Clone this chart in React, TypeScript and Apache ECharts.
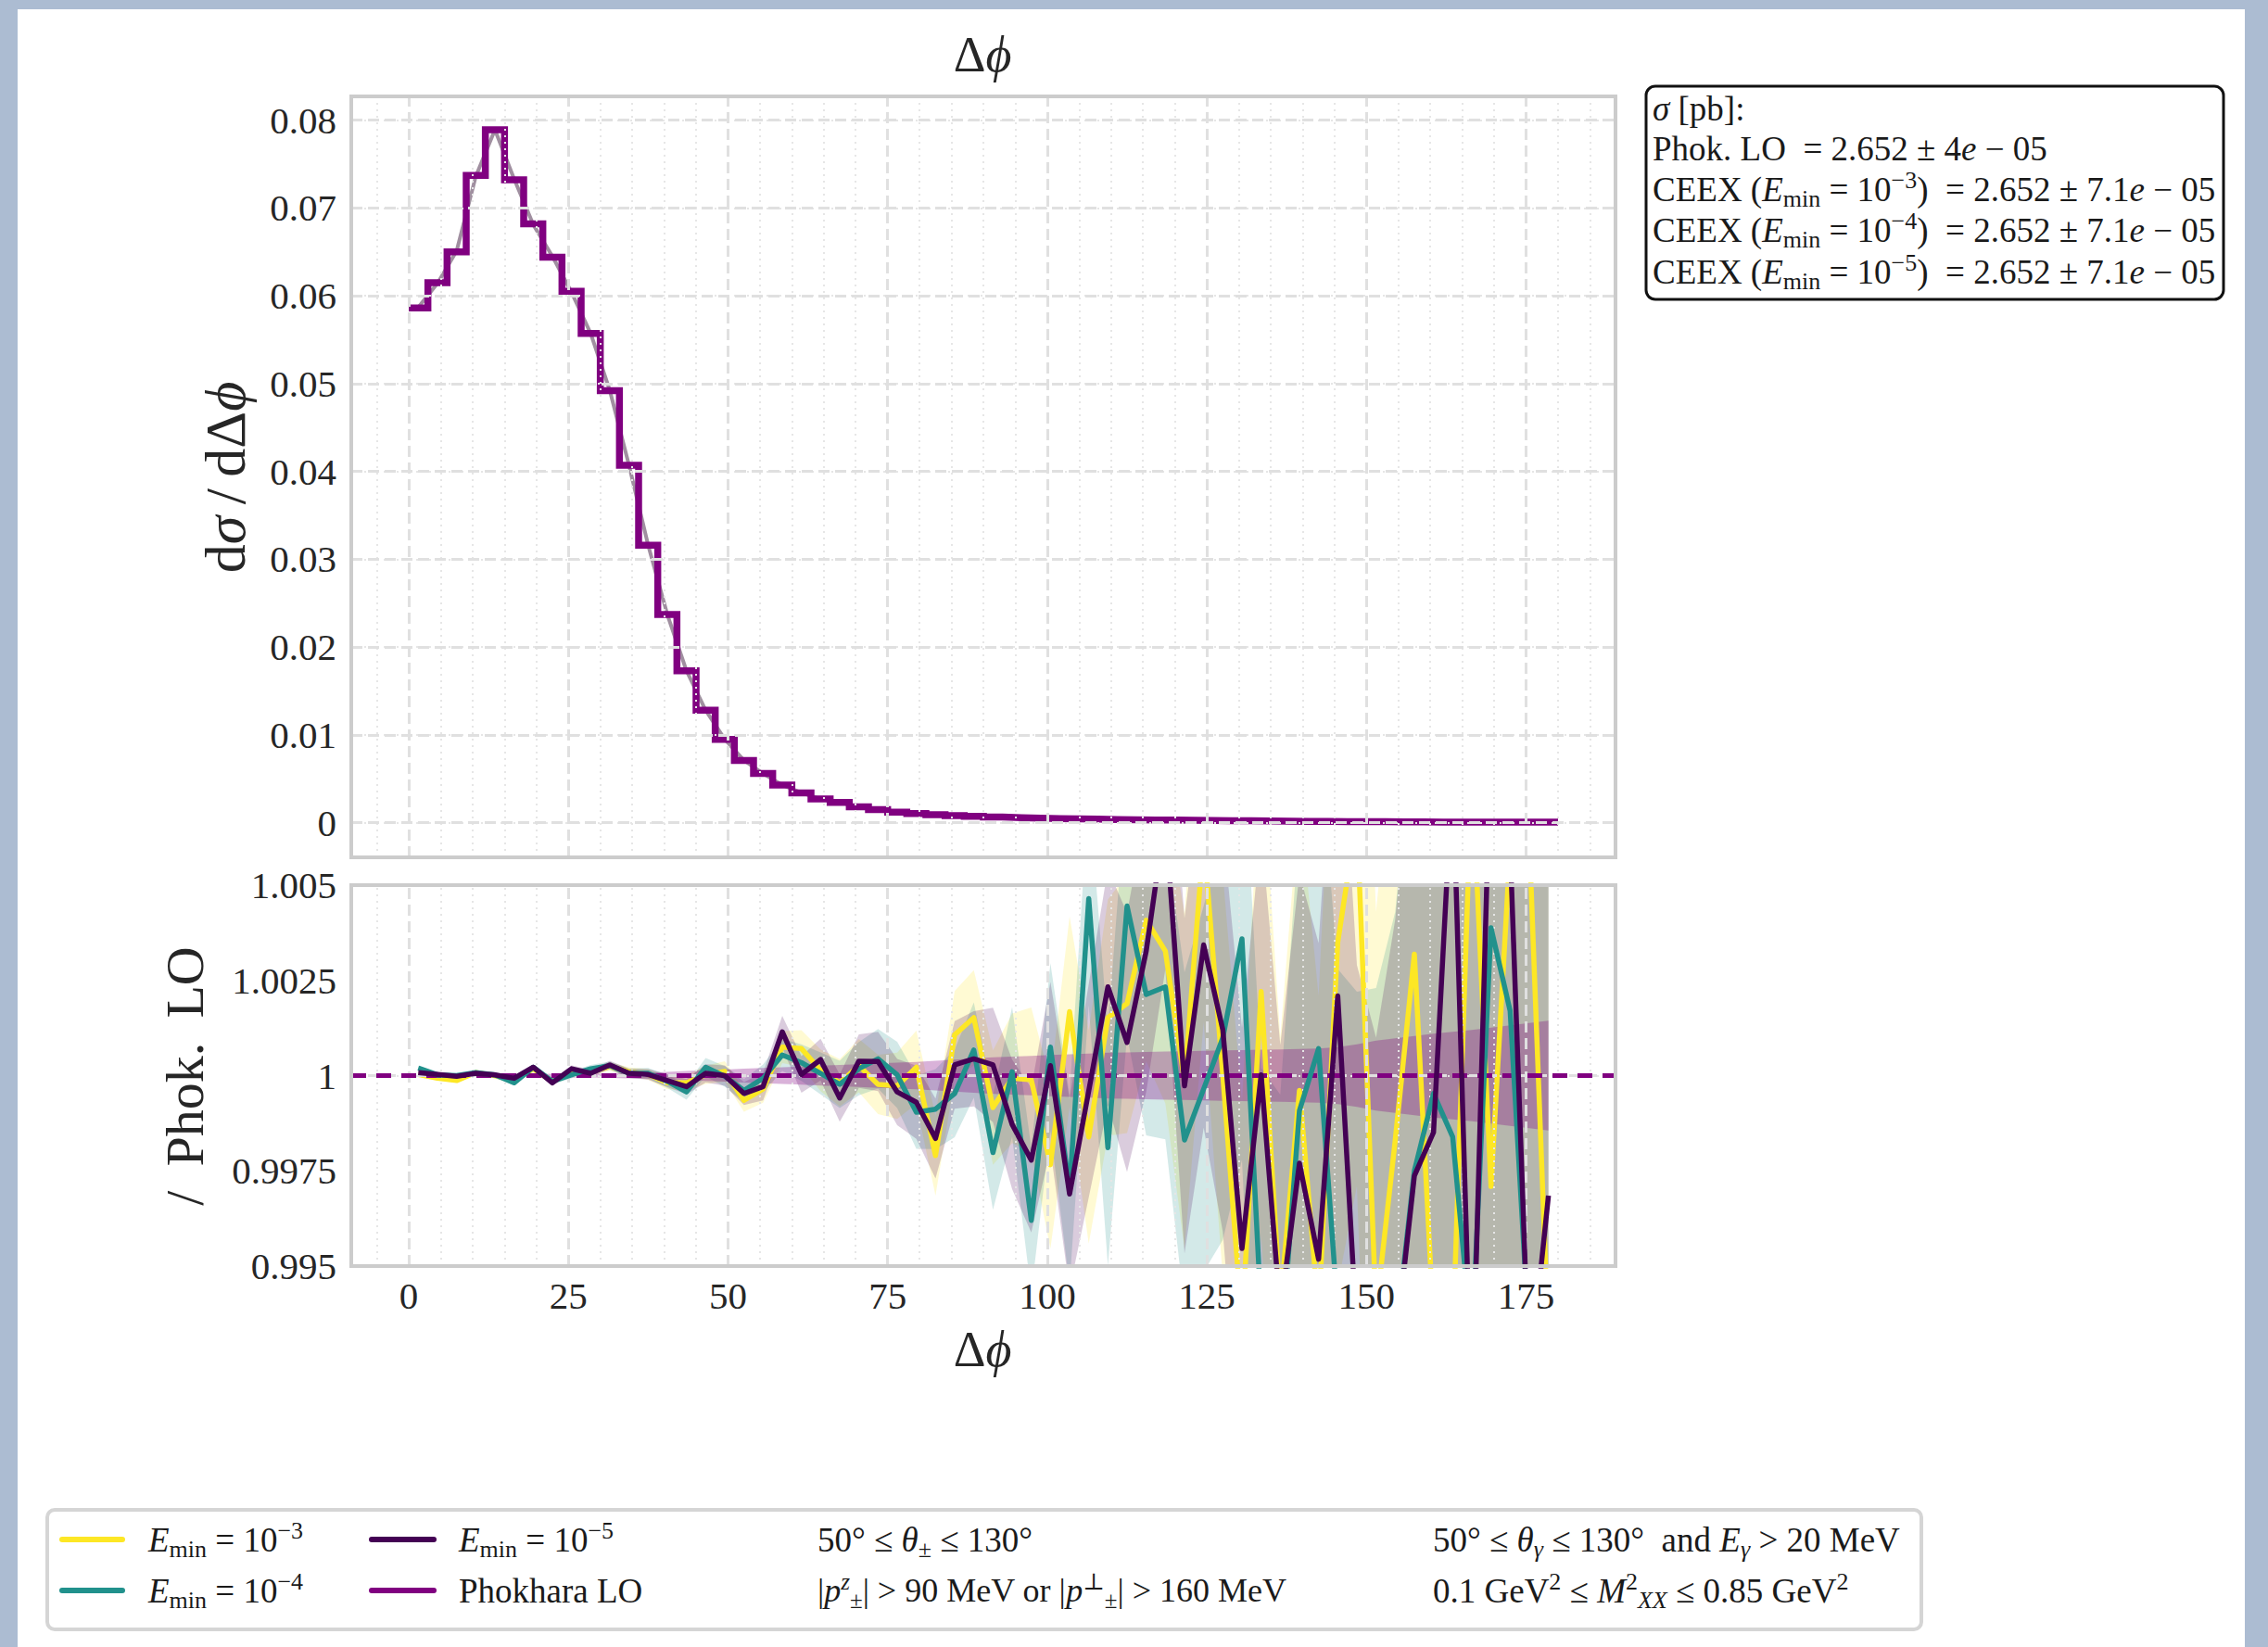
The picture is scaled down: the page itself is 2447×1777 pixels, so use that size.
import React, { useEffect, useRef } from 'react';
import * as echarts from 'echarts';

const FONT = "'Liberation Serif', 'DejaVu Serif', 'Times New Roman', serif";
const TXT = '#262626';
const C_E3 = '#fde725';
const C_E4 = '#21918c';
const C_E5 = '#440154';
const C_PHOK = '#800080';

// ---------- data ----------
const binEdges = [0, 3, 6, 9, 12, 15, 18, 21, 24, 27, 30, 33, 36, 39, 42, 45, 48, 51, 54, 57, 60, 63, 66, 69, 72, 75, 78, 81, 84, 87, 90, 93, 96, 99, 102, 105, 108, 111, 114, 117, 120, 123, 126, 129, 132, 135, 138, 141, 144, 147, 150, 153, 156, 159, 162, 165, 168, 171, 174, 177, 180];
const binCenters = [1.5, 4.5, 7.5, 10.5, 13.5, 16.5, 19.5, 22.5, 25.5, 28.5, 31.5, 34.5, 37.5, 40.5, 43.5, 46.5, 49.5, 52.5, 55.5, 58.5, 61.5, 64.5, 67.5, 70.5, 73.5, 76.5, 79.5, 82.5, 85.5, 88.5, 91.5, 94.5, 97.5, 100.5, 103.5, 106.5, 109.5, 112.5, 115.5, 118.5, 121.5, 124.5, 127.5, 130.5, 133.5, 136.5, 139.5, 142.5, 145.5, 148.5, 151.5, 154.5, 157.5, 160.5, 163.5, 166.5, 169.5, 172.5, 175.5, 178.5];

// dsigma/dDeltaphi, Phokhara LO (step histogram)
const dsigmaPhok = [0.0586, 0.0615, 0.065, 0.0737, 0.0789, 0.0732, 0.0682, 0.0644, 0.0605, 0.0557, 0.0492, 0.0407, 0.0316, 0.0237, 0.0173, 0.0128, 0.0095, 0.0071, 0.0056, 0.0043, 0.0034, 0.0027, 0.0023, 0.0018, 0.0015, 0.0012, 0.00105, 0.00092, 0.00082, 0.00073, 0.00065, 0.00058, 0.00052, 0.00047, 0.00043, 0.0004, 0.00037, 0.00034, 0.00032, 0.0003, 0.00028, 0.00026, 0.00024, 0.00022, 0.0002, 0.00018, 0.00016, 0.00014, 0.00013, 0.00012, 0.00011, 0.0001, 0.00009, 0.00008, 0.00008, 0.00007, 0.00007, 0.00006, 0.00006, 0.00006];
// CEEX curve in the upper panel (bin centres)
const dsigmaCeex = [0.0587, 0.0614, 0.0651, 0.0736, 0.0789, 0.0733, 0.0681, 0.0645, 0.0604, 0.0557, 0.0492, 0.0407, 0.0316, 0.0237, 0.0173, 0.0128, 0.0095, 0.0071, 0.0056, 0.0043, 0.0034, 0.0027, 0.0023, 0.0018, 0.0015, 0.0012, 0.00105, 0.00092, 0.00082, 0.00073, 0.00065, 0.00058, 0.00052, 0.00047, 0.00043, 0.0004, 0.00037, 0.00034, 0.00032, 0.0003, 0.00028, 0.00026, 0.00024, 0.00022, 0.0002, 0.00018, 0.00016, 0.00014, 0.00013, 0.00012, 0.00011, 0.0001, 0.00009, 0.00008, 0.00008, 0.00007, 0.00007, 0.00006, 0.00006, 0.00006];

// ratios to Phokhara LO
const ratioEmin3 = [1.00003, 0.99993, 0.99987, 1.00008, 1.0, 0.99987, 1.00018, 0.99985, 1.00006, 1.0001, 1.00024, 1.0001, 1.00003, 0.99981, 0.99981, 1.00002, 1.00011, 0.99935, 0.99965, 1.00075, 1.00071, 1.00014, 0.99981, 1.00026, 0.99977, 0.99973, 1.00022, 0.9979, 1.00107, 1.00152, 0.99916, 0.99993, 0.99989, 0.99766, 1.00168, 0.99839, 1.00152, 1.00189, 1.00408, 1.00327, 0.99985, 1.0062, 1.0, 0.9935, 1.00221, 0.994, 0.99961, 0.9938, 1.0035, 1.0068, 0.9938, 0.9983, 1.00319, 0.9935, 0.993, 1.008, 0.99709, 1.006, 1.0062, 0.993];
const ratioEmin4 = [1.0002, 1.00002, 1.0, 1.00008, 1.00002, 0.99981, 1.00022, 0.99985, 1.00002, 1.00018, 1.00026, 1.00006, 1.00006, 0.99985, 0.99957, 1.00022, 0.99998, 0.99961, 0.99993, 1.00054, 1.00034, 1.00006, 0.99977, 1.00018, 1.00044, 1.00002, 0.99904, 0.99912, 0.99953, 1.00067, 0.99798, 1.0001, 0.9962, 1.00075, 0.99701, 1.00465, 0.99811, 1.00445, 1.00213, 1.00233, 0.99831, 0.99965, 1.00099, 1.00359, 0.9938, 0.9925, 0.99908, 1.00071, 0.9938, 0.9925, 0.9918, 0.993, 0.9975, 0.99953, 0.99839, 0.993, 1.00388, 1.0017, 0.993, 0.9935];
const ratioEmin5 = [1.00008, 1.00003, 0.99998, 1.00006, 1.00002, 0.99993, 1.00022, 0.99981, 1.00018, 1.00006, 1.00028, 1.00006, 1.00003, 0.99987, 0.99971, 1.00006, 1.0, 0.99953, 0.99971, 1.00115, 1.00003, 1.00042, 0.99941, 1.00038, 1.00037, 0.99957, 0.9993, 0.99835, 1.00028, 1.00044, 1.00028, 0.99872, 0.99778, 1.00026, 0.99689, 0.9996, 1.00233, 1.00087, 1.00327, 1.0068, 0.99973, 1.00343, 1.0012, 0.99546, 1.00002, 0.9938, 0.9977, 0.99518, 1.00209, 0.9932, 0.9905, 0.9928, 0.99737, 0.99851, 1.008, 0.991, 1.009, 1.006, 0.992, 0.99685];
const ratioPhok = [1, 1, 1, 1, 1, 1, 1, 1, 1, 1, 1, 1, 1, 1, 1, 1, 1, 1, 1, 1, 1, 1, 1, 1, 1, 1, 1, 1, 1, 1, 1, 1, 1, 1, 1, 1, 1, 1, 1, 1, 1, 1, 1, 1, 1, 1, 1, 1, 1, 1, 1, 1, 1, 1, 1, 1, 1, 1, 1, 1];
// uncertainty half-widths of the ratios
const ceexErr = [0.00006, 0.00006, 0.00006, 0.00006, 0.00007, 0.00007, 0.00008, 0.00008, 0.00009, 0.0001, 0.00011, 0.00012, 0.00014, 0.00017, 0.0002, 0.00024, 0.00027, 0.0003, 0.00036, 0.00042, 0.00048, 0.00055, 0.00062, 0.0007, 0.00078, 0.00087, 0.00096, 0.00105, 0.00115, 0.00125, 0.0015, 0.0017, 0.0019, 0.0022, 0.0025, 0.0028, 0.0031, 0.0034, 0.0037, 0.004, 0.0044, 0.0048, 0.0053, 0.0058, 0.0064, 0.007, 0.0076, 0.0083, 0.009, 0.0097, 0.0105, 0.0113, 0.0121, 0.013, 0.014, 0.015, 0.016, 0.017, 0.018, 0.019];
const phokErr = [0.00003, 0.00003, 0.00003, 0.00003, 0.00004, 0.00004, 0.00004, 0.00005, 0.00005, 0.00005, 0.00006, 0.00007, 0.00008, 0.0001, 0.00012, 0.00014, 0.00016, 0.00018, 0.0002, 0.00022, 0.00024, 0.00026, 0.00028, 0.0003, 0.00032, 0.00034, 0.00036, 0.00039, 0.00042, 0.00045, 0.00048, 0.0005, 0.00052, 0.00054, 0.00056, 0.00058, 0.0006, 0.00061, 0.00062, 0.00063, 0.00064, 0.00065, 0.00066, 0.00067, 0.00068, 0.00069, 0.0007, 0.00071, 0.00075, 0.00082, 0.00092, 0.00098, 0.00104, 0.0011, 0.00115, 0.0012, 0.00126, 0.00132, 0.00138, 0.00144];

// ticks
const xTicks = [0, 25, 50, 75, 100, 125, 150, 175];
const xMinor = [-5, 5, 10, 15, 20, 30, 35, 40, 45, 55, 60, 65, 70, 80, 85, 90, 95, 105, 110, 115, 120, 130, 135, 140, 145, 155, 160, 165, 170, 180, 185];
const yTicksTop = [0, 0.01, 0.02, 0.03, 0.04, 0.05, 0.06, 0.07, 0.08];
const yTickLabelsTop = ['0', '0.01', '0.02', '0.03', '0.04', '0.05', '0.06', '0.07', '0.08'];
const yMinorTop = [-0.002, 0.002, 0.004, 0.006, 0.008, 0.012, 0.014, 0.016, 0.018, 0.022, 0.024, 0.026, 0.028, 0.032, 0.034, 0.036, 0.038, 0.042, 0.044, 0.046, 0.048, 0.052, 0.054, 0.056, 0.058, 0.062, 0.064, 0.066, 0.068, 0.072, 0.074, 0.076, 0.078, 0.082];
const yTicksBottom = [0.995, 0.9975, 1, 1.0025, 1.005];
const yTickLabelsBottom = ['0.995', '0.9975', '1', '1.0025', '1.005'];
const yGridBottom = [0.9975, 1, 1.0025];
const yMinorBottom = [0.9955, 0.996, 0.9965, 0.997, 0.998, 0.9985, 0.999, 0.9995, 1.0005, 1.001, 1.0015, 1.002, 1.003, 1.0035, 1.004, 1.0045];

// ---------- helpers ----------
function labelFor(ticks: number[], labels: string[]) {
  return (v: number) => {
    for (let i = 0; i < ticks.length; i++) if (Math.abs(ticks[i] - v) < 1e-9) return labels[i];
    return '';
  };
}

function gridLines(xi: number, yi: number, xs: number[], ys: number[], ls: any, z: number) {
  return {
    type: 'line',
    xAxisIndex: xi,
    yAxisIndex: yi,
    data: [],
    z,
    silent: true,
    markLine: {
      silent: true,
      symbol: ['none', 'none'],
      label: { show: false },
      emphasis: { disabled: true },
      lineStyle: ls,
      data: [...xs.map((v) => ({ xAxis: v })), ...ys.map((v) => ({ yAxis: v }))],
    },
  };
}

// uncertainty band drawn as one polygon through the axis scales
function band(vals: number[], errs: number[], color: string, z: number) {
  return {
    type: 'custom',
    xAxisIndex: 1,
    yAxisIndex: 1,
    z,
    silent: true,
    clip: true,
    data: binCenters.map((x, i) => [x, vals[i] - errs[i], vals[i] + errs[i]]),
    encode: { x: 0, y: [1, 2] },
    renderItem: (params: any, api: any) => {
      if (params.dataIndex !== 0) return null;
      const upper = binCenters.map((x, i) => api.coord([x, vals[i] + errs[i]]));
      const lower = binCenters.map((x, i) => api.coord([x, vals[i] - errs[i]])).reverse();
      return {
        type: 'polygon',
        shape: { points: upper.concat(lower) },
        style: { fill: color, stroke: 'none' },
      };
    },
  };
}

function ratioLine(vals: number[], color: string, z: number) {
  return {
    type: 'line', xAxisIndex: 1, yAxisIndex: 1, symbol: 'none', silent: true, z,
    lineStyle: { color, width: 5.5, join: 'round' },
    data: binCenters.map((x, i) => [x, vals[i]]),
  };
}

function rich(size: number, color = '#1a1a1a') {
  const lh = Math.round(size * 1.25);
  const small = Math.round(size * 0.7);
  const sh = Math.round(size * 0.6);
  const base = { fontFamily: FONT, fill: color };
  return {
    n: { ...base, fontSize: size, lineHeight: lh },
    i: { ...base, fontSize: size, lineHeight: lh, fontStyle: 'italic' },
    sub: { ...base, fontSize: small, lineHeight: sh, verticalAlign: 'bottom' },
    isub: { ...base, fontSize: small, lineHeight: sh, verticalAlign: 'bottom', fontStyle: 'italic' },
    sup: { ...base, fontSize: small, lineHeight: sh, verticalAlign: 'top' },
    isup: { ...base, fontSize: small, lineHeight: sh, verticalAlign: 'top', fontStyle: 'italic' },
  };
}

function txt(x: number, y: number, text: string, size: number, opts: any = {}) {
  return {
    type: 'text', x, y, z: 60, silent: true,
    rotation: opts.rotation || 0,
    style: {
      text,
      rich: rich(size, opts.color || '#1a1a1a'),
      fontFamily: FONT,
      fontSize: size,
      fill: opts.color || '#1a1a1a',
      align: opts.align || 'left',
      verticalAlign: 'middle',
    },
  };
}

function handle(x1: number, x2: number, y: number, color: string) {
  return {
    type: 'line', z: 60, silent: true,
    shape: { x1, y1: y, x2, y2: y },
    style: { stroke: color, lineWidth: 6, lineCap: 'round' },
  };
}

// ---------- option ----------
const GRID_TOP = { left: 379, top: 104, width: 1364, height: 821 };
const GRID_BOT = { left: 379, top: 955, width: 1364, height: 411 };

const majorStyle = { color: '#e0e0e0', width: 3, type: [12, 6] };
const minorStyle = { color: '#e6e6e6', width: 2, type: [2, 5] };

const axisLabelBase = { fontFamily: FONT, fontSize: 41, color: TXT };
const TS = '\u2009';

const option: any = {
  backgroundColor: 'transparent',
  animation: false,
  grid: [
    { ...GRID_TOP, show: false },
    { ...GRID_BOT, show: false },
  ],
  xAxis: [
    {
      gridIndex: 0, type: 'value', min: -9, max: 189,
      axisLine: { show: false }, axisTick: { show: false }, splitLine: { show: false }, axisLabel: { show: false },
    },
    {
      gridIndex: 1, type: 'value', min: -9, max: 189,
      axisLine: { show: false }, axisTick: { show: false }, splitLine: { show: false },
      axisLabel: { ...axisLabelBase, customValues: xTicks, margin: 11, formatter: (v: number) => String(v) },
    },
  ],
  yAxis: [
    {
      gridIndex: 0, type: 'value', min: -0.00394, max: 0.0827,
      axisLine: { show: false }, axisTick: { show: false }, splitLine: { show: false },
      axisLabel: { ...axisLabelBase, customValues: yTicksTop, margin: 16, formatter: labelFor(yTicksTop, yTickLabelsTop) },
    },
    {
      gridIndex: 1, type: 'value', min: 0.995, max: 1.005,
      axisLine: { show: false }, axisTick: { show: false }, splitLine: { show: false },
      axisLabel: { ...axisLabelBase, customValues: yTicksBottom, margin: 16, formatter: labelFor(yTicksBottom, yTickLabelsBottom) },
    },
  ],
  series: [
    // grid lines
    gridLines(0, 0, xMinor, yMinorTop, minorStyle, 0),
    gridLines(0, 0, xTicks, yTicksTop, majorStyle, 1),
    gridLines(1, 1, xMinor, yMinorBottom, minorStyle, 0),
    gridLines(1, 1, xTicks, yGridBottom, majorStyle, 1),
    // upper panel
    {
      type: 'line', xAxisIndex: 0, yAxisIndex: 0, symbol: 'none', silent: true, z: 3,
      lineStyle: { color: '#a08fa0', width: 4 },
      data: binCenters.map((x, i) => [x, dsigmaCeex[i]]),
    },
    {
      type: 'line', xAxisIndex: 0, yAxisIndex: 0, symbol: 'none', silent: true, z: 4, step: 'end',
      lineStyle: { color: C_PHOK, width: 7.5, join: 'miter' },
      data: [...binEdges.slice(0, 60).map((x, i) => [x, dsigmaPhok[i]]), [binEdges[60], dsigmaPhok[59]]],
    },
    // lower panel bands
    band(ratioEmin3, ceexErr, 'rgba(253,231,37,0.2)', 2),
    band(ratioEmin4, ceexErr, 'rgba(33,145,140,0.2)', 2),
    band(ratioEmin5, ceexErr, 'rgba(68,1,84,0.2)', 2),
    band(ratioPhok, phokErr, 'rgba(128,0,128,0.3)', 3),
    // lower panel lines
    ratioLine(ratioEmin3, C_E3, 4),
    ratioLine(ratioEmin4, C_E4, 5),
    ratioLine(ratioEmin5, C_E5, 6),
    {
      type: 'line', xAxisIndex: 1, yAxisIndex: 1, data: [], z: 8, silent: true,
      markLine: {
        silent: true, symbol: ['none', 'none'], label: { show: false }, emphasis: { disabled: true },
        lineStyle: { color: C_PHOK, width: 5, type: [16, 11] },
        data: [{ yAxis: 1 }],
      },
    },
  ],
  graphic: {
    elements: [
      // frames
      { type: 'rect', z: 50, silent: true, shape: { x: GRID_TOP.left, y: GRID_TOP.top, width: GRID_TOP.width, height: GRID_TOP.height }, style: { fill: 'none', stroke: '#cccccc', lineWidth: 4 } },
      { type: 'rect', z: 50, silent: true, shape: { x: GRID_BOT.left, y: GRID_BOT.top, width: GRID_BOT.width, height: GRID_BOT.height }, style: { fill: 'none', stroke: '#cccccc', lineWidth: 4 } },
      // title and axis names
      txt(1060, 59, '{n|Δ}{i|ϕ}', 54, { align: 'center', color: TXT }),
      txt(1060, 1456, '{n|Δ}{i|ϕ}', 54, { align: 'center', color: TXT }),
      txt(243, 515, `{n|d}{i|σ}{n|${TS}/${TS}dΔ}{i|ϕ}`, 62, { align: 'center', rotation: Math.PI / 2, color: TXT }),
      txt(199, 1161, `{n|/ ${TS}Phok. ${TS}LO}`, 58, { align: 'center', rotation: Math.PI / 2, color: TXT }),
      // cross-section box
      { type: 'rect', z: 55, silent: true, shape: { x: 1776, y: 93, width: 623, height: 230, r: 10 }, style: { fill: '#ffffff', stroke: '#111111', lineWidth: 3 } },
      txt(1783, 117, '{i|σ}{n| [pb]:}', 37),
      txt(1783, 160, '{n|Phok. LO  = 2.652 ± 4}{i|e}{n| − 05}', 37),
      txt(1783, 204, '{n|CEEX (}{i|E}{sub|min}{n| = 10}{sup|−3}{n|)  = 2.652 ± 7.1}{i|e}{n| − 05}', 37),
      txt(1783, 248, '{n|CEEX (}{i|E}{sub|min}{n| = 10}{sup|−4}{n|)  = 2.652 ± 7.1}{i|e}{n| − 05}', 37),
      txt(1783, 293, '{n|CEEX (}{i|E}{sub|min}{n| = 10}{sup|−5}{n|)  = 2.652 ± 7.1}{i|e}{n| − 05}', 37),
      // bottom legend
      { type: 'rect', z: 55, silent: true, shape: { x: 51, y: 1629, width: 2022, height: 129, r: 8 }, style: { fill: '#ffffff', stroke: '#d5d5d5', lineWidth: 4 } },
      handle(67, 132, 1661, C_E3),
      handle(67, 132, 1716, C_E4),
      handle(401, 468, 1661, C_E5),
      handle(401, 468, 1716, C_PHOK),
      txt(160, 1661, '{i|E}{sub|min}{n| = 10}{sup|−3}', 37),
      txt(160, 1716, '{i|E}{sub|min}{n| = 10}{sup|−4}', 37),
      txt(495, 1661, '{i|E}{sub|min}{n| = 10}{sup|−5}', 37),
      txt(495, 1716, '{n|Phokhara LO}', 37),
      txt(882, 1661, '{n|50° ≤ }{i|θ}{sub|±}{n| ≤ 130°}', 37),
      txt(882, 1716, '{n||}{i|p}{isup|z}{sub|±}{n|| > 90 MeV or |}{i|p}{sup|⊥}{sub|±}{n|| > 160 MeV}', 36),
      txt(1546, 1661, '{n|50° ≤ }{i|θ}{isub|γ}{n| ≤ 130°  and }{i|E}{isub|γ}{n| > 20 MeV}', 37),
      txt(1546, 1716, '{n|0.1 GeV}{sup|2}{n| ≤ }{i|M}{sup|2}{isub|XX}{n| ≤ 0.85 GeV}{sup|2}', 37),
    ],
  },
};

export default function App() {
  const ref = useRef<HTMLDivElement>(null);
  useEffect(() => {
    if (!ref.current) return;
    const chart = echarts.init(ref.current, null, { renderer: 'svg', width: 2447, height: 1777 });
    chart.setOption(option);
    return () => chart.dispose();
  }, []);
  return (
    <div style={{ position: 'fixed', left: 0, top: 0, width: 2447, height: 1777, background: '#acbcd2', overflow: 'hidden' }}>
      <div style={{ position: 'absolute', left: 19, top: 10, width: 2403, height: 1767, background: '#ffffff' }} />
      <div ref={ref} style={{ position: 'absolute', left: 0, top: 0, width: 2447, height: 1777 }} />
    </div>
  );
}
